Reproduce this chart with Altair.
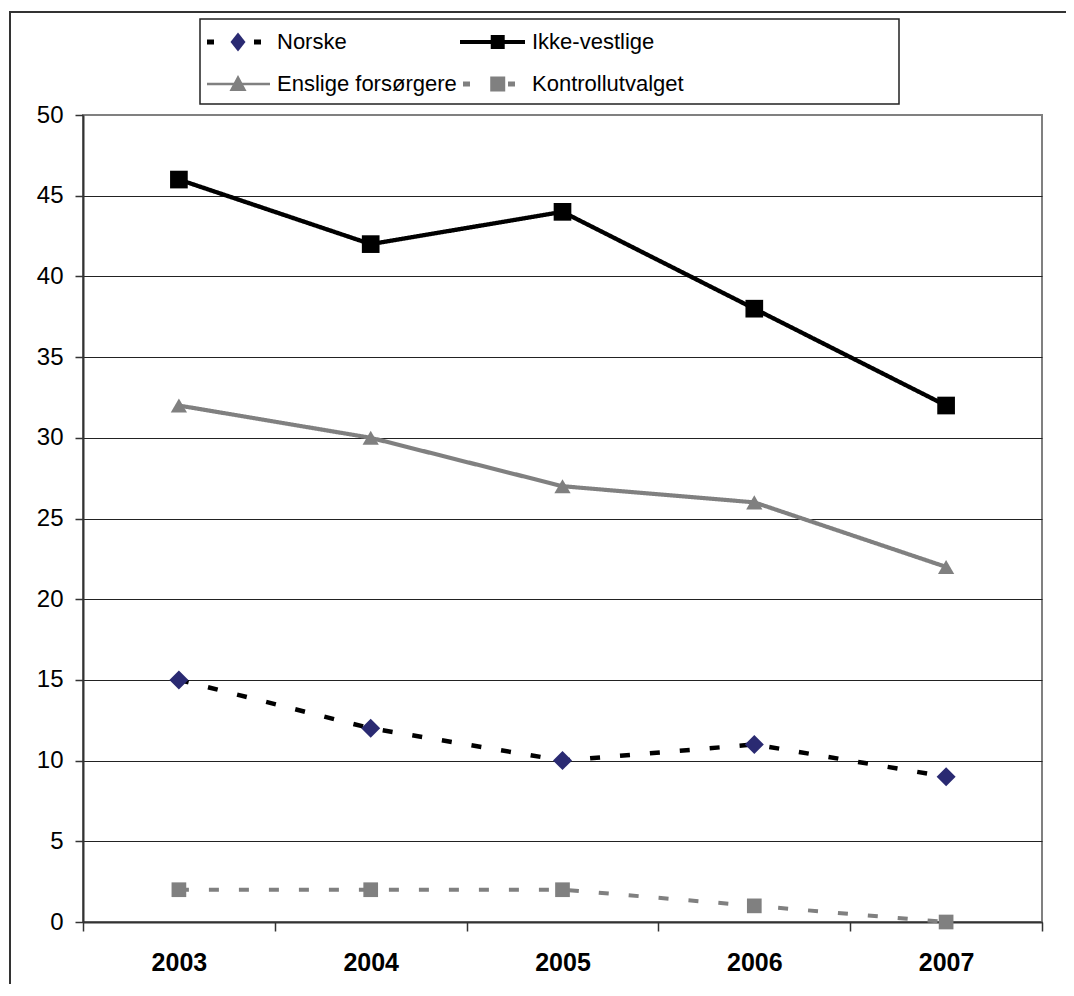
import altair as alt
import pandas as pd

years = [2003, 2004, 2005, 2006, 2007]
series = ["Norske", "Ikke-vestlige", "Enslige forsørgere", "Kontrollutvalget"]
norske = [15, 12, 10, 11, 9]
ikke_vestlige = [46, 42, 44, 38, 32]
enslige = [32, 30, 27, 26, 22]
kontroll = [2, 2, 2, 1, 0]
y_ticks = list(range(0, 51, 5))

rows = []
for name, vals in zip(series, [norske, ikke_vestlige, enslige, kontroll]):
    for yr, v in zip(years, vals):
        rows.append({"year": yr, "value": v, "series": name})
df = pd.DataFrame(rows)

W, H = 959, 807
band = W / len(years)
edges = [years[0] - 0.5 + i for i in range(len(years) + 1)]

line_colors = ["black", "black", "#808080", "#808080"]
marker_colors = ["#2A2A72", "black", "#808080", "#808080"]
dashes = [[10, 20], [1, 0], [1, 0], [10, 20]]
widths = [4.5, 4, 2.5, 4.5]
shapes = ["diamond", "square", "triangle-up", "square"]
sizes = [361, 216, 324, 210]


def path(polys, unit=11.0):
    out = []
    for poly in polys:
        pts = [f"{x / unit:.3f},{y / unit:.3f}" for x, y in poly]
        out.append("M" + "L".join(pts) + "Z")
    return "".join(out)


def rect(x0, x1, hw):
    return [(x0, -hw), (x1, -hw), (x1, hw), (x0, hw)]


legend_lines = [
    path([rect(-31, -24, 2.5), rect(16, 23, 2.5)]),
    path([rect(-33, 32, 2)]),
    path([rect(-31, 32, 1.2)]),
    path([rect(-30, -23, 2.5), rect(15, 22, 2.5)]),
]
legend_markers = [
    path([[(0, -9.5), (7.5, 0), (0, 9.5), (-7.5, 0)]]),
    path([rect(-7, 7, 7)]),
    path([[(0, -9), (8.5, 7), (-8.5, 7)]]),
    path([rect(-7.5, 7.5, 7.5)]),
]

FONT = "Liberation Sans"

x_enc = alt.X(
    "year:Q",
    title=None,
    scale=alt.Scale(domain=[edges[0], edges[-1]], nice=False, zero=False),
    axis=alt.Axis(
        values=edges,
        grid=False,
        labelExpr="datum.value < %f ? '' + (datum.value + 0.5) : ''" % (edges[-1] - 0.1),
        labelOffset=band / 2,
        labelFont=FONT,
        labelFontSize=25,
        labelFontWeight="bold",
        labelColor="black",
        labelPadding=19,
        labelFlush=False,
        labelOverlap=False,
        tickSize=9,
        tickColor="#333333",
        tickWidth=1.5,
        domainColor="#333333",
        domainWidth=2,
    ),
)
y_enc = alt.Y(
    "value:Q",
    title=None,
    scale=alt.Scale(domain=[0, 50], nice=False),
    axis=alt.Axis(
        values=y_ticks,
        labelFont=FONT,
        labelFontSize=24,
        labelColor="black",
        labelPadding=12,
        tickSize=8,
        tickColor="#333333",
        tickWidth=1.5,
        domainColor="#333333",
        domainWidth=2,
        gridColor=alt.condition("datum.value >= 50", alt.value("#808080"), alt.value("#222222")),
        gridWidth=1.2,
    ),
)

base = alt.Chart(df)
one = alt.Chart(pd.DataFrame({"k": [0]}))

frame = one.mark_rect(fill="transparent", stroke="#333333", strokeWidth=2).encode(
    x=alt.value(-73), x2=alt.value(1010), y=alt.value(-103), y2=alt.value(900)
)
legend_frame = one.mark_rect(fill="transparent", stroke="#222222", strokeWidth=1.5).encode(
    x=alt.value(117), x2=alt.value(816), y=alt.value(-96), y2=alt.value(-11)
)

lines = base.mark_line().encode(
    x=x_enc,
    y=y_enc,
    stroke=alt.Stroke("series:N", scale=alt.Scale(domain=series, range=line_colors), legend=None),
    strokeDash=alt.StrokeDash("series:N", scale=alt.Scale(domain=series, range=dashes), legend=None),
    strokeWidth=alt.StrokeWidth("series:N", scale=alt.Scale(domain=series, range=widths), legend=None),
)

points = base.mark_point(filled=True, opacity=1, strokeWidth=0).encode(
    x=alt.X("year:Q"),
    y=alt.Y("value:Q"),
    shape=alt.Shape("series:N", scale=alt.Scale(domain=series, range=shapes), legend=None),
    fill=alt.Fill("series:N", scale=alt.Scale(domain=series, range=marker_colors), legend=None),
    size=alt.Size("series:N", scale=alt.Scale(domain=series, range=sizes), legend=None),
)

LEGEND_FONT_SIZE = 22
# approximate width of the widest first-column label in the legend font
ENSLIGE_W = 8.169 * LEGEND_FONT_SIZE


def legend_layer(paths, colors, show_labels, z):
    extra = {} if show_labels else {"labelExpr": "''"}
    leg = alt.Legend(
        title=None,
        orient="none",
        direction="horizontal",
        legendX=144,
        legendY=-84,
        columns=2,
        labelFont=FONT,
        labelFontSize=LEGEND_FONT_SIZE,
        labelColor="black",
        labelOffset=28,
        labelLimit=500,
        symbolSize=484,
        symbolStrokeWidth=0,
        symbolOpacity=1,
        symbolOffset=0,
        rowPadding=20,
        columnPadding=3 if show_labels else 30 + ENSLIGE_W,
        padding=0,
        zindex=z,
        **extra,
    )
    return base.transform_filter("false").mark_point(filled=True).encode(
        x=alt.X("year:Q"),
        y=alt.Y("value:Q"),
        shape=alt.Shape("series:N", scale=alt.Scale(domain=series, range=paths), legend=leg),
        fill=alt.Fill("series:N", scale=alt.Scale(domain=series, range=colors), legend=leg),
    )


leg_lines = legend_layer(legend_lines, line_colors, True, 1)
leg_markers = legend_layer(legend_markers, marker_colors, False, 2)

chart = (
    alt.layer(frame, legend_frame, lines, points, leg_lines, leg_markers)
    .resolve_scale(
        shape="independent",
        fill="independent",
        size="independent",
        stroke="independent",
        strokeDash="independent",
        strokeWidth="independent",
    )
    .properties(
        width=W,
        height=H,
        autosize="none",
        padding={"left": 75, "top": 107, "right": 24, "bottom": 62},
        background="white",
    )
    .configure_view(stroke="#808080", strokeWidth=2)
)

chart.save("out.html", embed_options={"renderer": "svg", "actions": False})
